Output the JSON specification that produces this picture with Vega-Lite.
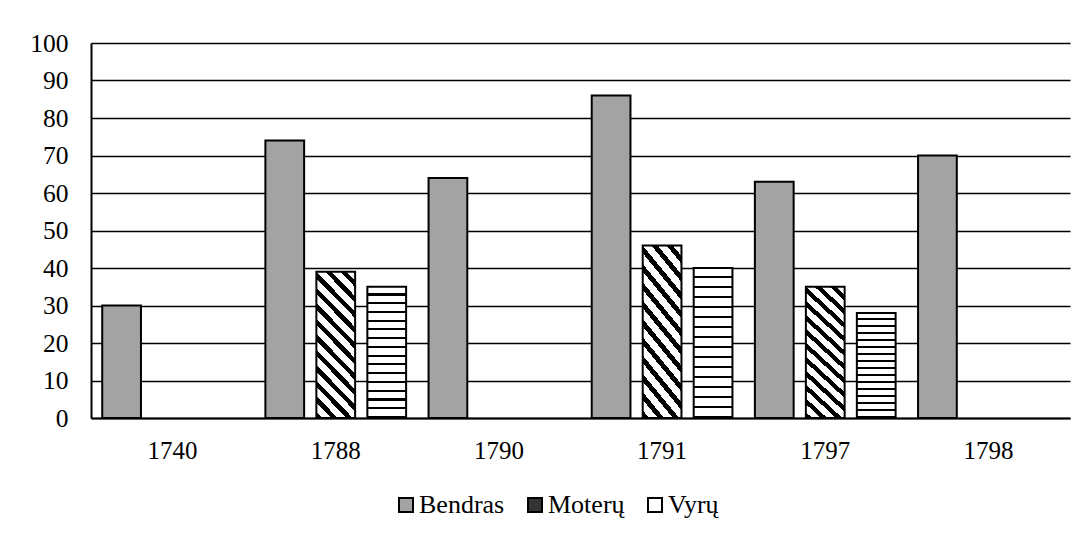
{
  "$schema": "https://vega.github.io/schema/vega-lite/v6.json",
  "width": 979,
  "height": 375,
  "autosize": {"type": "none"},
  "padding": {"left": 91, "top": 43, "right": 17, "bottom": 119},
  "background": "white",
  "data": {
    "values": [
      {"year": "1740", "group": "Bendras", "value": 30},
      {"year": "1788", "group": "Bendras", "value": 74},
      {"year": "1788", "group": "Moterų", "value": 39},
      {"year": "1788", "group": "Vyrų", "value": 35},
      {"year": "1790", "group": "Bendras", "value": 64},
      {"year": "1791", "group": "Bendras", "value": 86},
      {"year": "1791", "group": "Moterų", "value": 46},
      {"year": "1791", "group": "Vyrų", "value": 40},
      {"year": "1797", "group": "Bendras", "value": 63},
      {"year": "1797", "group": "Moterų", "value": 35},
      {"year": "1797", "group": "Vyrų", "value": 28},
      {"year": "1798", "group": "Bendras", "value": 70}
    ]
  },
  "mark": {"type": "bar", "stroke": "black", "strokeWidth": 2, "fillOpacity": 1},
  "encoding": {
    "x": {
      "field": "year",
      "type": "nominal",
      "scale": {"paddingInner": 0, "paddingOuter": 0},
      "axis": {
        "title": null,
        "labelAngle": 0,
        "labelFont": "Liberation Serif",
        "labelFontSize": 25,
        "labelColor": "black",
        "ticks": false,
        "tickSize": 0,
        "labelPadding": 20,
        "domainColor": "black",
        "domainWidth": 2,
        "grid": false
      }
    },
    "xOffset": {
      "field": "group",
      "scale": {"domain": ["Bendras", "Moterų", "Vyrų"], "paddingInner": 0.24, "paddingOuter": 0.22}
    },
    "y": {
      "field": "value",
      "type": "quantitative",
      "scale": {"domain": [0, 100], "nice": false},
      "axis": {
        "title": null,
        "values": [0, 10, 20, 30, 40, 50, 60, 70, 80, 90, 100],
        "labelFont": "Liberation Serif",
        "labelFontSize": 25.5,
        "labelFontWeight": "normal",
        "labelColor": "black",
        "ticks": false,
        "tickSize": 0,
        "labelPadding": 23,
        "labelFlush": false,
        "domainColor": "black",
        "domainWidth": 2,
        "gridColor": "black",
        "gridWidth": 1.5
      }
    },
    "fill": {
      "field": "group",
      "type": "nominal",
      "scale": {"domain": ["Bendras", "Moterų", "Vyrų"], "range": ["#a3a3a3", "#333333", "#ffffff"]},
      "condition": [
        {"test": "datum.group === 'Moterų'", "value": {"gradient": "linear", "x1": 0, "y1": 1, "x2": 0.323, "y2": -0.185, "stops": [
            {"offset": 0, "color": "#000"}, {"offset": 0.035, "color": "#000"}, {"offset": 0.035, "color": "#fff"}, {"offset": 0.0833, "color": "#fff"},
            {"offset": 0.0833, "color": "#000"}, {"offset": 0.1183, "color": "#000"}, {"offset": 0.1183, "color": "#fff"}, {"offset": 0.1667, "color": "#fff"},
            {"offset": 0.1667, "color": "#000"}, {"offset": 0.2017, "color": "#000"}, {"offset": 0.2017, "color": "#fff"}, {"offset": 0.25, "color": "#fff"},
            {"offset": 0.25, "color": "#000"}, {"offset": 0.285, "color": "#000"}, {"offset": 0.285, "color": "#fff"}, {"offset": 0.3333, "color": "#fff"},
            {"offset": 0.3333, "color": "#000"}, {"offset": 0.3683, "color": "#000"}, {"offset": 0.3683, "color": "#fff"}, {"offset": 0.4167, "color": "#fff"},
            {"offset": 0.4167, "color": "#000"}, {"offset": 0.4517, "color": "#000"}, {"offset": 0.4517, "color": "#fff"}, {"offset": 0.5, "color": "#fff"},
            {"offset": 0.5, "color": "#000"}, {"offset": 0.535, "color": "#000"}, {"offset": 0.535, "color": "#fff"}, {"offset": 0.5833, "color": "#fff"},
            {"offset": 0.5833, "color": "#000"}, {"offset": 0.6183, "color": "#000"}, {"offset": 0.6183, "color": "#fff"}, {"offset": 0.6667, "color": "#fff"},
            {"offset": 0.6667, "color": "#000"}, {"offset": 0.7017, "color": "#000"}, {"offset": 0.7017, "color": "#fff"}, {"offset": 0.75, "color": "#fff"},
            {"offset": 0.75, "color": "#000"}, {"offset": 0.785, "color": "#000"}, {"offset": 0.785, "color": "#fff"}, {"offset": 0.8333, "color": "#fff"},
            {"offset": 0.8333, "color": "#000"}, {"offset": 0.8683, "color": "#000"}, {"offset": 0.8683, "color": "#fff"}, {"offset": 0.9167, "color": "#fff"},
            {"offset": 0.9167, "color": "#000"}, {"offset": 0.9517, "color": "#000"}, {"offset": 0.9517, "color": "#fff"}, {"offset": 1, "color": "#fff"}
          ]}},
        {"test": "datum.group === 'Vyrų'", "value": {"gradient": "linear", "x1": 0, "y1": 0, "x2": 0, "y2": 1, "stops": [
            {"offset": 0, "color": "#fff"}, {"offset": 0.0513, "color": "#fff"}, {"offset": 0.0513, "color": "#000"}, {"offset": 0.0667, "color": "#000"},
            {"offset": 0.0667, "color": "#fff"}, {"offset": 0.118, "color": "#fff"}, {"offset": 0.118, "color": "#000"}, {"offset": 0.1333, "color": "#000"},
            {"offset": 0.1333, "color": "#fff"}, {"offset": 0.1846, "color": "#fff"}, {"offset": 0.1846, "color": "#000"}, {"offset": 0.2, "color": "#000"},
            {"offset": 0.2, "color": "#fff"}, {"offset": 0.2513, "color": "#fff"}, {"offset": 0.2513, "color": "#000"}, {"offset": 0.2667, "color": "#000"},
            {"offset": 0.2667, "color": "#fff"}, {"offset": 0.318, "color": "#fff"}, {"offset": 0.318, "color": "#000"}, {"offset": 0.3333, "color": "#000"},
            {"offset": 0.3333, "color": "#fff"}, {"offset": 0.3846, "color": "#fff"}, {"offset": 0.3846, "color": "#000"}, {"offset": 0.4, "color": "#000"},
            {"offset": 0.4, "color": "#fff"}, {"offset": 0.4513, "color": "#fff"}, {"offset": 0.4513, "color": "#000"}, {"offset": 0.4667, "color": "#000"},
            {"offset": 0.4667, "color": "#fff"}, {"offset": 0.518, "color": "#fff"}, {"offset": 0.518, "color": "#000"}, {"offset": 0.5333, "color": "#000"},
            {"offset": 0.5333, "color": "#fff"}, {"offset": 0.5846, "color": "#fff"}, {"offset": 0.5846, "color": "#000"}, {"offset": 0.6, "color": "#000"},
            {"offset": 0.6, "color": "#fff"}, {"offset": 0.6513, "color": "#fff"}, {"offset": 0.6513, "color": "#000"}, {"offset": 0.6667, "color": "#000"},
            {"offset": 0.6667, "color": "#fff"}, {"offset": 0.718, "color": "#fff"}, {"offset": 0.718, "color": "#000"}, {"offset": 0.7333, "color": "#000"},
            {"offset": 0.7333, "color": "#fff"}, {"offset": 0.7846, "color": "#fff"}, {"offset": 0.7846, "color": "#000"}, {"offset": 0.8, "color": "#000"},
            {"offset": 0.8, "color": "#fff"}, {"offset": 0.8513, "color": "#fff"}, {"offset": 0.8513, "color": "#000"}, {"offset": 0.8667, "color": "#000"},
            {"offset": 0.8667, "color": "#fff"}, {"offset": 0.918, "color": "#fff"}, {"offset": 0.918, "color": "#000"}, {"offset": 0.9333, "color": "#000"},
            {"offset": 0.9333, "color": "#fff"}, {"offset": 0.9846, "color": "#fff"}, {"offset": 0.9846, "color": "#000"}, {"offset": 1, "color": "#000"}
          ]}}
      ],
      "legend": {
        "title": null,
        "orient": "none",
        "legendX": 302,
        "legendY": 449,
        "direction": "horizontal",
        "symbolType": "square",
        "symbolSize": 196,
        "symbolStrokeColor": "black",
        "symbolStrokeWidth": 2,
        "symbolOpacity": 1,
        "labelFont": "Liberation Serif",
        "labelFontSize": 26,
        "labelColor": "black",
        "labelLimit": 0,
        "labelOffset": 0,
        "columnPadding": 17,
        "padding": 0
      }
    }
  },
  "config": {
    "font": "Liberation Serif",
    "view": {"stroke": null},
    "axis": {"labelFont": "Liberation Serif", "labelColor": "black"},
    "axisY": {"labelFont": "Liberation Serif"},
    "axisQuantitative": {"labelFont": "Liberation Serif"}
  }
}
